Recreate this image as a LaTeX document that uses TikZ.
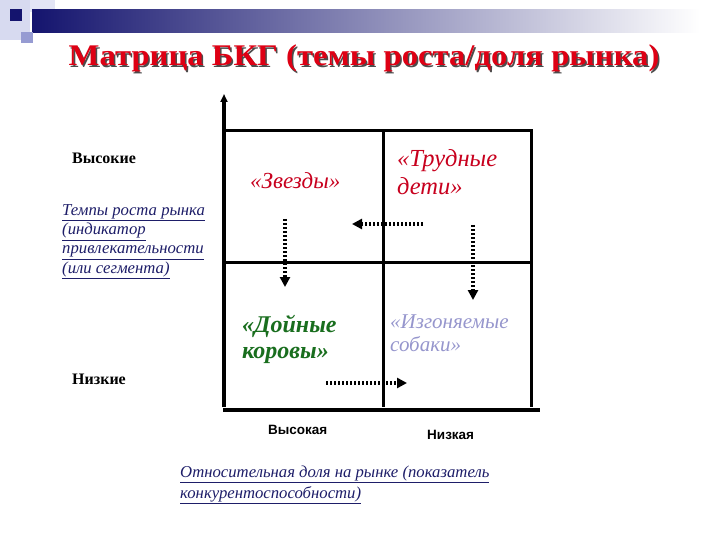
\documentclass[tikz,border=0pt]{standalone}
\usepackage{fontspec}
\setmainfont{Liberation Serif}
\newfontfamily\arialf{Liberation Sans}
\usetikzlibrary{arrows.meta}
\definecolor{navyd}{RGB}{20,20,110}
\definecolor{titlered}{RGB}{222,0,20}
\definecolor{qred}{RGB}{200,0,30}
\definecolor{qgreen}{RGB}{25,110,30}
\definecolor{qlav}{RGB}{150,150,205}
\definecolor{txtnavy}{RGB}{30,30,105}
\definecolor{sqlav}{RGB}{150,155,210}
\definecolor{sqlight}{RGB}{215,218,240}
\tikzset{
  lbl/.style={anchor=base west, inner sep=0pt},
  grid/.style={line width=3pt, line cap=rect},
  dotarrow/.style={line width=3.4pt, dash pattern=on 2.4pt off 1.6pt, -{Triangle[length=10pt,width=10pt]}},
  navytxt/.style={lbl, text=txtnavy, font=\fontsize{16.7}{19}\selectfont\itshape},
  rowlbl/.style={lbl, font=\fontsize{16}{18}\selectfont\bfseries},
  collbl/.style={lbl, font=\arialf\fontsize{13.5}{15}\selectfont\bfseries},
}
\begin{document}
\begin{tikzpicture}[x=1pt,y=-1pt]
\useasboundingbox (0,0) rectangle (720,540);
\fill[white] (0,0) rectangle (720,540);
% header decoration
\fill[sqlight] (0,0) rectangle (30,40);
\fill[sqlight!70] (30,0) rectangle (55,12);
\shade[left color=navyd, right color=white] (32,10) rectangle (700,33);
\fill[navyd] (10,9) rectangle (22,21);
\fill[sqlav] (21,32) rectangle (33,43);
% title
\node[lbl, font=\fontsize{30}{34}\selectfont\bfseries, text=black!70] (titlesh) at (70,67.5) {\scalebox{1.09}[1]{Матрица БКГ (темы роста/доля рынка)}};
\node[lbl, font=\fontsize{30}{34}\selectfont\bfseries, text=titlered] (title) at (68.5,66) {\scalebox{1.09}[1]{Матрица БКГ (темы роста/доля рынка)}};
% matrix lines
\coordinate (O) at (224,410);
\coordinate (Ytop) at (224,94);
\draw[line width=3.4pt, -{Triangle[length=8pt,width=7pt]}] (224,407) -- (Ytop);
\draw[grid] (224,131) -- (531,131);
\draw[grid] (224,262) -- (531,262);
\draw[line width=3.4pt] (223,410) -- (540,410);
\draw[grid] (383,131) -- (383,405);
\draw[grid] (531,131) -- (531,405);
% quadrant labels
\node[lbl, font=\fontsize{23}{26}\selectfont\itshape, text=qred] (stars) at (250,189) {«Звезды»};
\node[lbl, font=\fontsize{24.5}{28}\selectfont\itshape, text=qred] (diff1) at (397,167) {«Трудные};
\node[lbl, font=\fontsize{24.5}{28}\selectfont\itshape, text=qred] (diff2) at (397,195) {дети»};
\node[lbl, font=\fontsize{24}{28}\selectfont\bfseries\itshape, text=qgreen] (cow1) at (242,332) {«Дойные};
\node[lbl, font=\fontsize{24}{28}\selectfont\bfseries\itshape, text=qgreen] (cow2) at (242,358) {коровы»};
\node[lbl, font=\fontsize{21}{24}\selectfont\itshape, text=qlav] (dog1) at (390,328) {«Изгоняемые};
\node[lbl, font=\fontsize{21}{24}\selectfont\itshape, text=qlav] (dog2) at (390,351) {собаки»};
% dotted arrows
\coordinate (a1s) at (285,219);
\coordinate (a1e) at (285,287);
\coordinate (a2s) at (423,224);
\coordinate (a2e) at (352,224);
\coordinate (a3s) at (473,225);
\coordinate (a3e) at (473,300);
\coordinate (a4s) at (326,383);
\coordinate (a4e) at (407,383);
\draw[dotarrow] (a1s) -- (a1e);
\draw[dotarrow] (a2s) -- (a2e);
\draw[dotarrow] (a3s) -- (a3e);
\draw[dotarrow] (a4s) -- (a4e);
% axis labels
\node[rowlbl] (high) at (72,164) {Высокие};
\node[rowlbl] (low) at (72,384) {Низкие};
\node[navytxt] (y1) at (62,215) {\underline{Темпы роста рынка}};
\node[navytxt] (y2) at (62,235) {\underline{(индикатор}};
\node[navytxt] (y3) at (62,254) {\underline{привлекательности}};
\node[navytxt] (y4) at (62,273) {\underline{(или сегмента)}};
\node[collbl] (hi) at (268,434) {Высокая};
\node[collbl] (lo) at (427,439) {Низкая};
\node[navytxt] (x1) at (180,477) {\underline{Относительная доля на рынке (показатель}};
\node[navytxt] (x2) at (180,498) {\underline{конкурентоспособности)}};
\end{tikzpicture}
\end{document}
